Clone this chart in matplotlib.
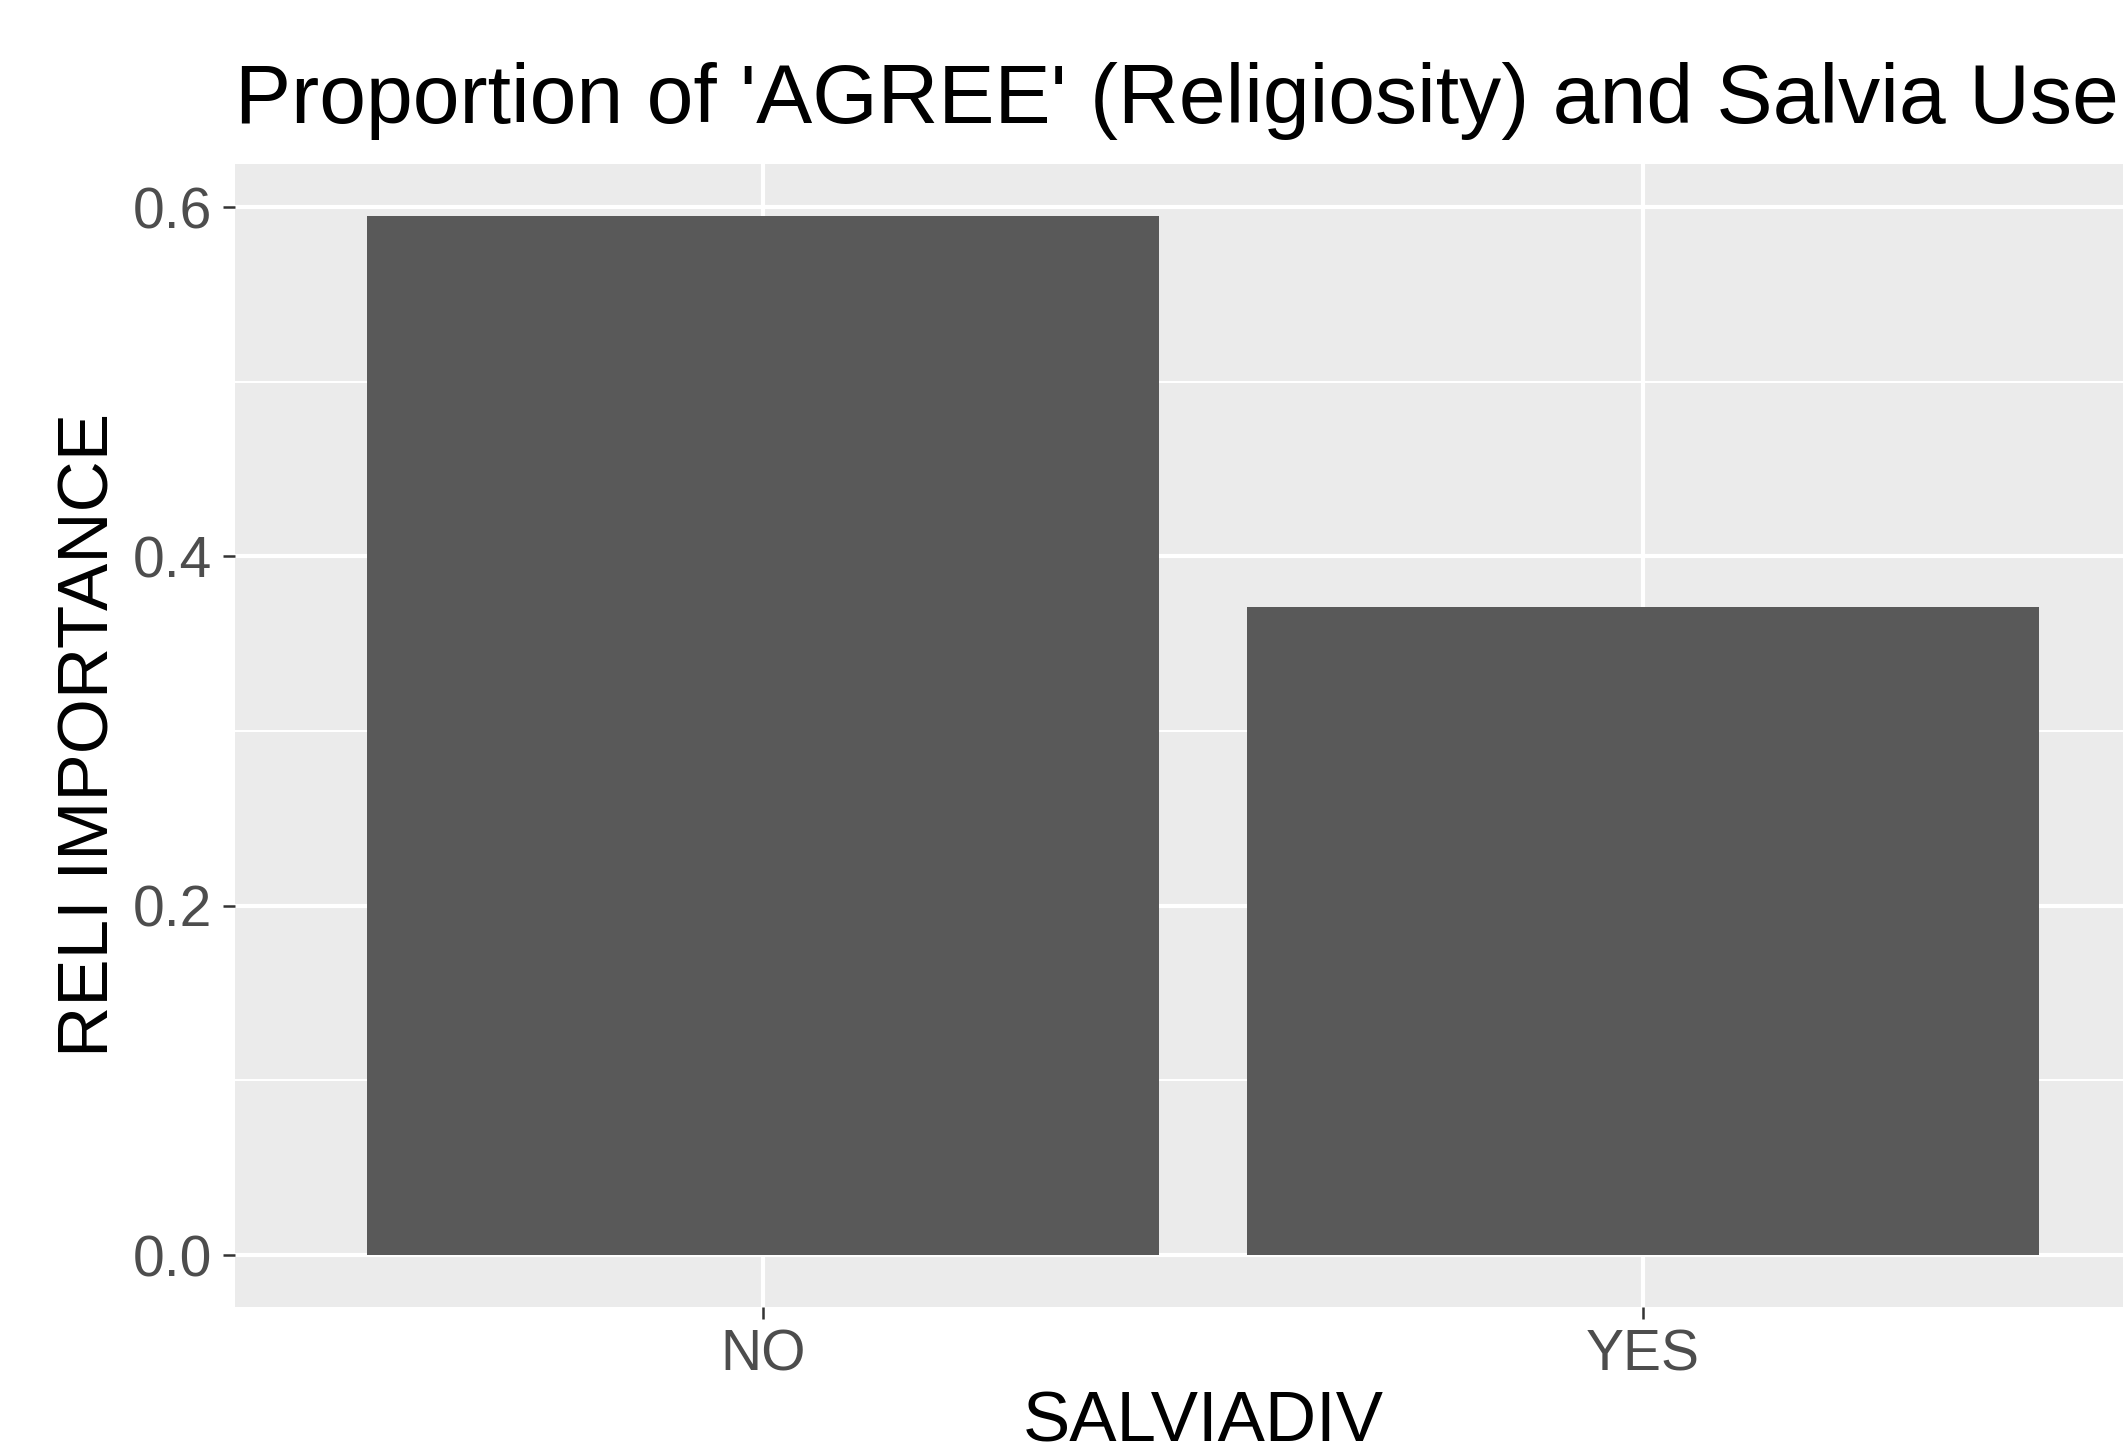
import matplotlib
matplotlib.use("Agg")
import matplotlib.pyplot as plt
from matplotlib.ticker import FixedLocator

plt.rcParams['font.family'] = ['Liberation Sans', 'DejaVu Sans']

# data
categories = ['NO', 'YES']
values = [0.595, 0.371]
yticks = [0.0, 0.2, 0.4, 0.6]
yminor = [0.1, 0.3, 0.5]
title = "Proportion of 'AGREE' (Religiosity) and Salvia Use"
xlab = "SALVIADIV"
ylab = "RELI IMPORTANCE"

W, H = 2123, 1449
fig = plt.figure(figsize=(W / 100, H / 100), dpi=100)

# panel runs past the right edge, like the cropped original
ax = fig.add_axes([235 / W, 1 - 1307 / H, (2171 - 235) / W, (1307 - 164) / H])
ax.set_facecolor('#EBEBEB')
for s in ax.spines.values():
    s.set_visible(False)

x = list(range(len(categories)))
ax.bar(x, values, width=0.9, color='#595959', zorder=3)

ax.set_xlim(-0.6, len(categories) - 0.4)
top = max(values)
ax.set_ylim(-0.05 * top, top * 1.05)

ax.set_xticks(x)
ax.set_xticklabels(categories)
ax.set_yticks(yticks)
ax.set_yticklabels(['%.1f' % v for v in yticks])
ax.yaxis.set_minor_locator(FixedLocator(yminor))

ax.grid(True, which='major', color='white', linewidth=3.0, zorder=0)
ax.grid(True, which='minor', axis='y', color='white', linewidth=1.5, zorder=0)
ax.set_axisbelow(True)

ax.tick_params(axis='both', which='major', length=8.8, width=1.8, color='#333333',
               labelsize=41, labelcolor='#4D4D4D')
ax.tick_params(axis='x', pad=7)
ax.tick_params(axis='y', pad=8)
ax.tick_params(which='minor', length=0)

fig.text(235 / W, 1 - 123 / H, title, fontsize=60.6, ha='left', va='baseline', color='black')
fig.text(1203 / W, 1 - 1442 / H, xlab, fontsize=51, ha='center', va='baseline', color='black')
fig.text(91 / W, 1 - 735 / H, ylab, fontsize=51, ha='center', va='center', rotation=90, color='black')

fig.savefig('out.png', dpi=100)
